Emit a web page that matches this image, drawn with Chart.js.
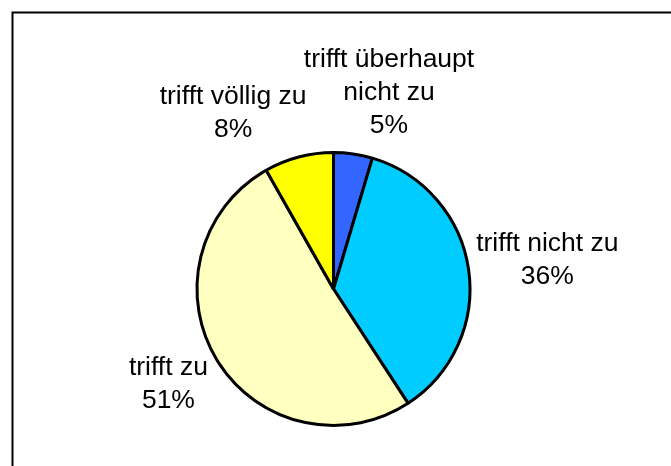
<!DOCTYPE html>
<html>
<head>
<meta charset="utf-8">
<script src="https://cdn.jsdelivr.net/npm/chart.js@4/dist/chart.umd.min.js"></script>
<style>
    html, body { margin: 0; padding: 0; background: #fff; }
    #wrap { width: 671px; height: 466px; position: relative; }
</style>
</head>
<body>
<div id="wrap"><canvas id="pieChart"></canvas></div>
<script>
// data
const categories = ['trifft überhaupt\nnicht zu', 'trifft nicht zu', 'trifft zu', 'trifft völlig zu']
const shares = [4.6, 36.2, 51.0, 8.2]
const sliceColors = ['#3366ff', '#00ccff', '#ffffc0', '#ffff00']

// label placement: radial distance factor + small nudges (px)
const labelDist = 1.45
const labelNudge = [[27, 0], [18, 0], [4, -8], [-50, 16]]

const framePlugin = {
    id: 'frame',
    beforeDraw(chart) {
        const ctx = chart.ctx
        ctx.save()
        ctx.fillStyle = '#fff'
        ctx.fillRect(0, 0, chart.width, chart.height)
        ctx.strokeStyle = '#000'
        ctx.lineWidth = 2
        ctx.beginPath()
        ctx.moveTo(12.5, chart.height + 5)
        ctx.lineTo(12.5, 12.5)
        ctx.lineTo(chart.width + 5, 12.5)
        ctx.stroke()
        ctx.restore()
    }
}

const labelPlugin = {
    id: 'sliceLabels',
    afterDatasetsDraw(chart) {
        const ctx = chart.ctx
        const meta = chart.getDatasetMeta(0)
        const total = shares.reduce((a, b) => a + b, 0)
        ctx.save()
        ctx.font = '26.5px "Liberation Sans", Arial, sans-serif'
        ctx.fillStyle = '#000'
        ctx.textAlign = 'center'
        ctx.textBaseline = 'middle'
        meta.data.forEach(function (arc, i) {
            const p = arc.getProps(['x', 'y', 'startAngle', 'endAngle', 'outerRadius'], true)
            const mid = (p.startAngle + p.endAngle) / 2
            const d = p.outerRadius * labelDist
            const cx = p.x + Math.cos(mid) * d + labelNudge[i][0]
            const cy = p.y + Math.sin(mid) * d + labelNudge[i][1]
            const lines = categories[i].split('\n')
            lines.push(Math.round(shares[i] / total * 100) + '%')
            const lh = 33
            const top = cy - (lines.length - 1) * lh / 2
            lines.forEach(function (t, k) {
                ctx.fillText(t, cx, top + k * lh)
            })
        })
        ctx.restore()
    }
}

new Chart(document.getElementById('pieChart').getContext('2d'), {
    type: 'pie',
    data: {
        labels: categories,
        datasets: [{
            data: shares,
            backgroundColor: sliceColors,
            borderColor: '#000',
            borderWidth: 3
        }]
    },
    options: {
        responsive: true,
        maintainAspectRatio: false,
        animation: false,
        events: [],
        layout: {
            padding: { left: 0, right: 4, top: 151, bottom: 39 }
        },
        plugins: {
            legend: { display: false },
            tooltip: { enabled: false }
        }
    },
    plugins: [framePlugin, labelPlugin]
})
</script>
</body>
</html>
